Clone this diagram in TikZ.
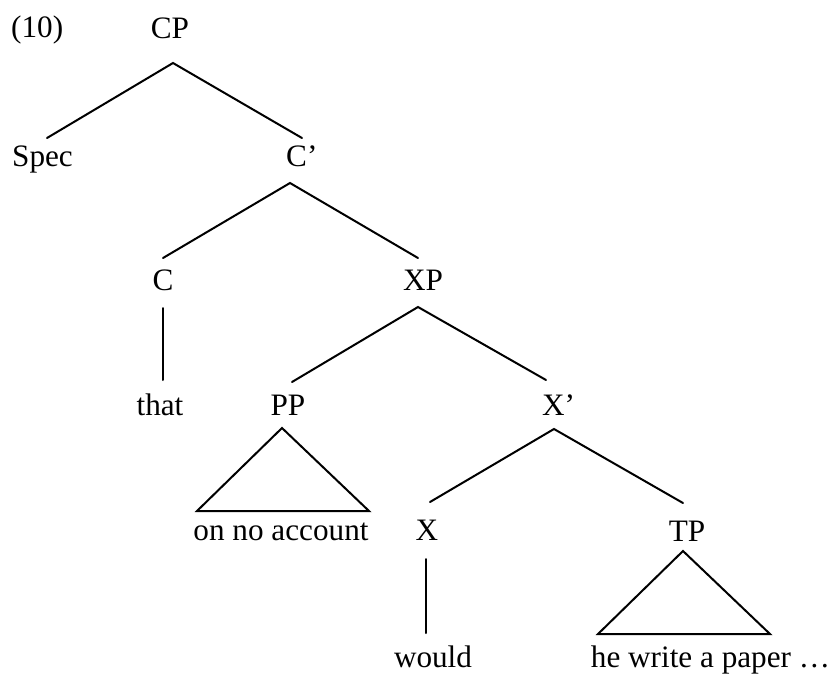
\documentclass[tikz,border=0pt]{standalone}
\usepackage{fontspec}
\setmainfont{Liberation Serif}
\begin{document}
\begin{tikzpicture}[x=1pt,y=-1pt,
  lbl/.style={anchor=base, inner sep=0pt, font=\fontsize{31.2}{36}\selectfont},
  lblw/.style={lbl, anchor=base west},
  branch/.style={line width=2pt, line cap=round, line join=miter}]
\useasboundingbox (0,0) rectangle (836,675);

% labels
\node[lblw] (num)  at (11,37)   {(10)};
\node[lbl]  (cp)   at (170,38)  {CP};
\node[lbl]  (spec) at (42.5,166){Spec};
\node[lblw] (cbar) at (286,166) {C’};
\node[lbl]  (c)    at (163,290) {C};
\node[lbl]  (xp)   at (423,290) {XP};
\node[lbl]  (that) at (160,415) {that};
\node[lbl]  (pp)   at (288,415) {PP};
\node[lblw] (xbar) at (542,415) {X’};
\node[lbl]  (ona)  at (281,540) {on no account};
\node[lbl]  (x)    at (427,540) {X};
\node[lbl]  (tp)   at (687,541) {TP};
\node[lbl]  (would) at (433,667) {would};
\node[lbl]  (hwap) at (710.5,667) {he write a paper …};

% branch points
\coordinate (cp-top)   at (173,63);
\coordinate (spec-up)  at (47,138);
\coordinate (cbar-up)  at (302,138);
\coordinate (cbar-top) at (290,183);
\coordinate (c-up)     at (163,258);
\coordinate (xp-up)    at (418,258);
\coordinate (c-top)    at (163,308);
\coordinate (that-up)  at (163,380);
\coordinate (xp-top)   at (418,307);
\coordinate (pp-up)    at (292,382);
\coordinate (xbar-up)  at (546,380);
\coordinate (pp-top)   at (282,428);
\coordinate (pp-bl)    at (197,511);
\coordinate (pp-br)    at (369,511);
\coordinate (xbar-top) at (554,429);
\coordinate (x-up)     at (430,502);
\coordinate (tp-up)    at (683,503);
\coordinate (x-top)    at (426,559);
\coordinate (would-up) at (426,633);
\coordinate (tp-top)   at (683,551);
\coordinate (tp-bl)    at (598,634);
\coordinate (tp-br)    at (770,634);

% branches
\draw[branch] (spec-up) -- (cp-top) -- (cbar-up);
\draw[branch] (c-up) -- (cbar-top) -- (xp-up);
\draw[branch] (c-top) -- (that-up);
\draw[branch] (pp-up) -- (xp-top) -- (xbar-up);
\draw[branch] (pp-top) -- (pp-bl) -- (pp-br) -- cycle;
\draw[branch] (x-up) -- (xbar-top) -- (tp-up);
\draw[branch] (x-top) -- (would-up);
\draw[branch] (tp-top) -- (tp-bl) -- (tp-br) -- cycle;
\end{tikzpicture}
\end{document}
